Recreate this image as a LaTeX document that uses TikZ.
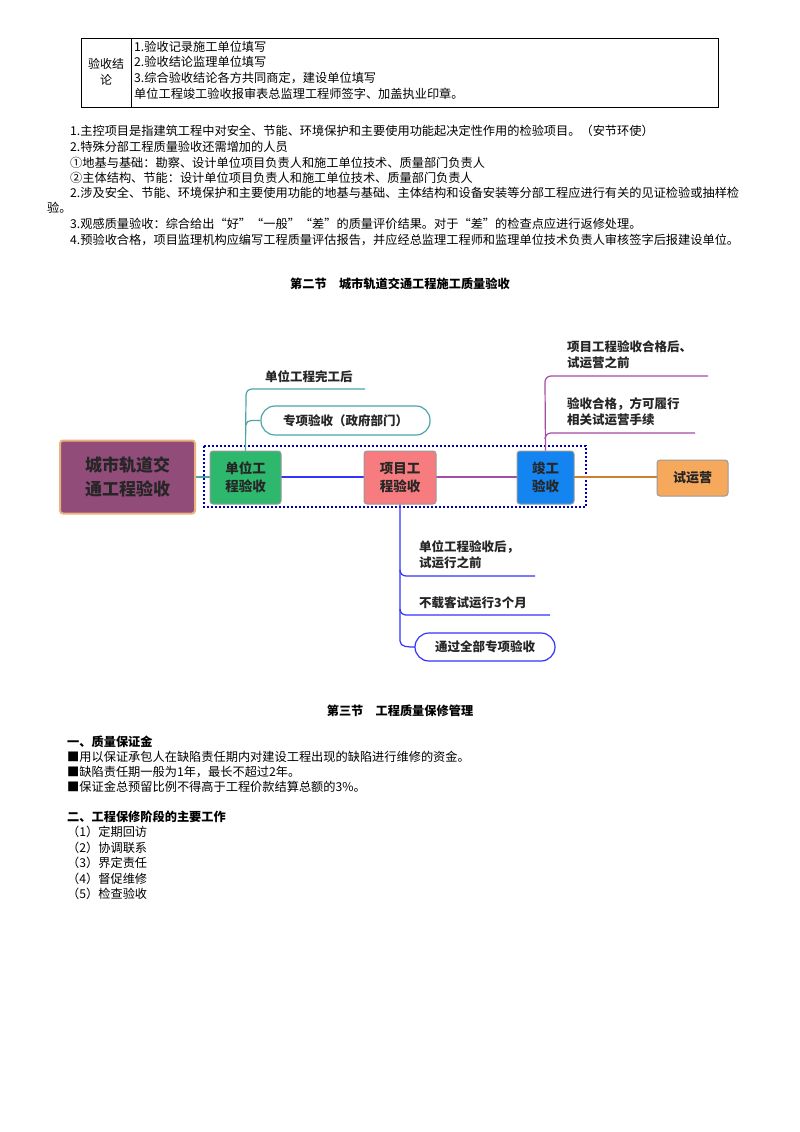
\documentclass[tikz,border=0pt]{standalone}
\usepackage{fontspec}
\setmainfont{Noto Sans CJK SC}
\begin{document}
\begin{tikzpicture}[x=1pt,y=-1pt,
  txt/.style={anchor=west,inner sep=0pt,font=\fontsize{12.2}{14}\selectfont},
  mm/.style={anchor=west,inner sep=0pt,font=\fontsize{12.5}{16}\selectfont\bfseries,text=black!85},
  box/.style={rounded corners=3pt,align=center,font=\fontsize{13.5}{18}\selectfont\bfseries,text=black!85,draw=black!40,line width=1pt}]
\useasboundingbox (0,0) rectangle (800,1132);
\fill[white] (0,0) rectangle (800,1132);
% table
\draw[line width=1pt] (81,39) rectangle (718,107);
\draw (131,39) -- (131,107);
\node[align=center,inner sep=0pt,font=\fontsize{12}{16}\selectfont] (tl) at (106,72) {验收结\\论};
\node[txt] (t1) at (134,47) {1.验收记录施工单位填写};
\node[txt] (t2) at (134,62) {2.验收结论监理单位填写};
\node[txt] (t3) at (134,78) {3.综合验收结论各方共同商定，建设单位填写};
\node[txt] (t4) at (134,94) {单位工程竣工验收报审表总监理工程师签字、加盖执业印章。};
% notes
\node[txt] (n1) at (70,131) {1.主控项目是指建筑工程中对安全、节能、环境保护和主要使用功能起决定性作用的检验项目。（安节环使）};
\node[txt] (n2) at (70,147) {2.特殊分部工程质量验收还需增加的人员};
\node[txt] (n3) at (70,163) {①地基与基础：勘察、设计单位项目负责人和施工单位技术、质量部门负责人};
\node[txt] (n4) at (70,178) {②主体结构、节能：设计单位项目负责人和施工单位技术、质量部门负责人};
\node[txt] (n5) at (70,193) {2.涉及安全、节能、环境保护和主要使用功能的地基与基础、主体结构和设备安装等分部工程应进行有关的见证检验或抽样检};
\node[txt] (n6) at (47,208) {验。};
\node[txt] (n7) at (70,224) {3.观感质量验收：综合给出“好”“一般”“差”的质量评价结果。对于“差”的检查点应进行返修处理。};
\node[txt] (n8) at (70,240) {4.预验收合格，项目监理机构应编写工程质量评估报告，并应经总监理工程师和监理单位技术负责人审核签字后报建设单位。};
\node[inner sep=0pt,font=\fontsize{12.2}{14}\selectfont\bfseries] (s2) at (400,284) {第二节\quad 城市轨道交通工程施工质量验收};
% mind map
\draw[blue!70!black,line width=2pt,dotted] (204,446) rectangle (586,507);
\draw[teal!70,line width=1.5pt] (196,477) -- (210,477);
\draw[blue!80,line width=1.5pt] (281,477) -- (364,477);
\draw[violet!70,line width=1.5pt] (436,477) -- (517,477);
\draw[brown!80!orange,line width=1.5pt] (574,477) -- (657,477);
\node[box,draw=orange!40!brown!60,line width=2pt,minimum width=135pt,minimum height=73pt,font=\fontsize{17}{24}\selectfont\bfseries,fill={rgb,255:red,146;green,76;blue,121}] (root) at (127.5,477) {城市轨道交\\通工程验收};
\node[box,fill={rgb,255:red,46;green,184;blue,110},minimum width=71pt,minimum height=53pt] (dw) at (245.5,477.5) {单位工\\程验收};
\node[box,fill={rgb,255:red,246;green,124;blue,128},minimum width=72pt,minimum height=53pt] (xm) at (400,477.5) {项目工\\程验收};
\node[box,fill={rgb,255:red,20;green,132;blue,240},minimum width=57pt,minimum height=53pt] (jg) at (545.5,477.5) {竣工\\验收};
\node[box,fill={rgb,255:red,246;green,168;blue,92},minimum width=71pt,minimum height=36pt,font=\fontsize{13}{15}\selectfont\bfseries] (sy) at (692.5,478) {试运营};
% green branch
\draw[teal!70,line width=1.2pt] (dw.north) -- (246,395) to[out=90,in=180] (252,389) -- (365,389);
\node[mm] (a1) at (265,377) {单位工程完工后};
\node[draw=teal!70,line width=1.2pt,rounded corners=14pt,minimum width=169pt,minimum height=29pt,font=\fontsize{12.5}{14}\selectfont\bfseries,text=black!85] (a2) at (345.5,420.5) {专项验收（政府部门）};
\draw[teal!70,line width=1.2pt] (246,425) to[out=90,in=180] (a2.west);
% blue branch up
\draw[violet!70,line width=1.2pt] (jg.north) -- (545,382) to[out=90,in=180] (551,376) -- (708,376);
\draw[violet!70,line width=1.2pt] (545,439) to[out=90,in=180] (551,433) -- (695,433);
\node[mm,align=left] (b1) at (567,355) {项目工程验收合格后、\\试运营之前};
\node[mm,align=left] (b2) at (567,412) {验收合格，方可履行\\相关试运营手续};
% pink branch down
\draw[blue!80,line width=1.2pt] (xm.south) -- (400,641) to[out=-90,in=180] (415,647);
\draw[blue!80,line width=1.2pt] (400,570) to[out=-90,in=180] (406,576) -- (535,576);
\draw[blue!80,line width=1.2pt] (400,609) to[out=-90,in=180] (406,615) -- (550,615);
\node[mm,align=left] (c1) at (419,555) {单位工程验收后，\\试运行之前};
\node[mm] (c2) at (419,603) {不载客试运行3个月};
\node[draw=blue!80,line width=1.2pt,rounded corners=14pt,minimum width=140pt,minimum height=28pt,font=\fontsize{12.5}{14}\selectfont\bfseries,text=black!85] (c3) at (485,647) {通过全部专项验收};
% section 3
\node[inner sep=0pt,font=\fontsize{12.2}{14}\selectfont\bfseries] (s3) at (400,711) {第三节\quad 工程质量保修管理};
\node[txt,font=\fontsize{12.2}{14}\selectfont\bfseries] (d1) at (67,742) {一、质量保证金};
\node[txt] (d2) at (67,757) {■用以保证承包人在缺陷责任期内对建设工程出现的缺陷进行维修的资金。};
\node[txt] (d3) at (67,772) {■缺陷责任期一般为1年，最长不超过2年。};
\node[txt] (d4) at (67,787) {■保证金总预留比例不得高于工程价款结算总额的3\%。};
\node[txt,font=\fontsize{12.2}{14}\selectfont\bfseries] (e1) at (67,817) {二、工程保修阶段的主要工作};
\node[txt] (e2) at (67,832) {（1）定期回访};
\node[txt] (e3) at (67,848) {（2）协调联系};
\node[txt] (e4) at (67,863) {（3）界定责任};
\node[txt] (e5) at (67,879) {（4）督促维修};
\node[txt] (e6) at (67,894) {（5）检查验收};
\end{tikzpicture}
\end{document}
